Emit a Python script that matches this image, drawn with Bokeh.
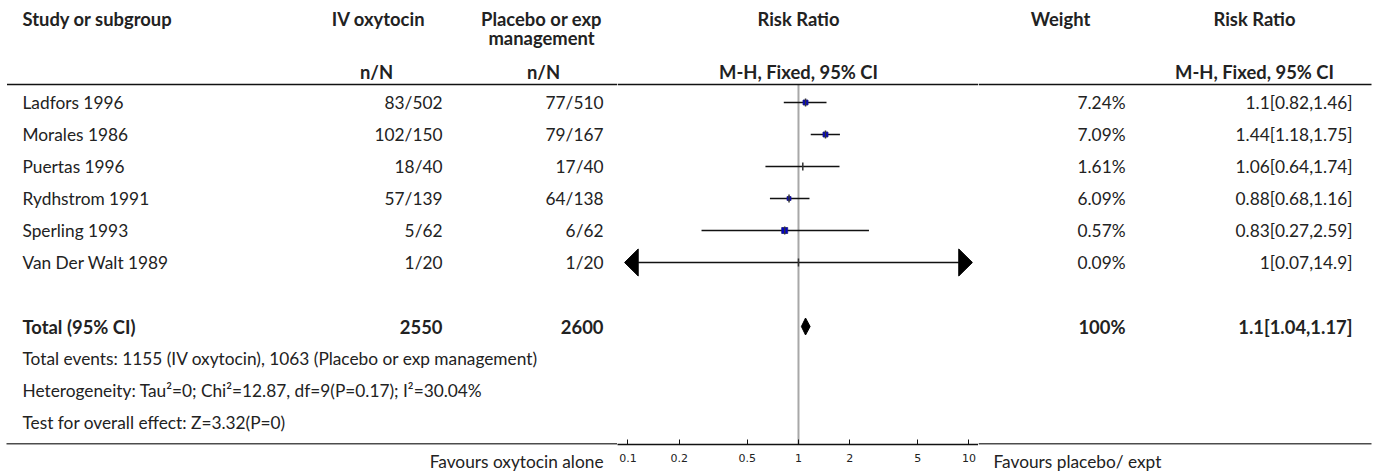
from bokeh.plotting import figure
from bokeh.layouts import row
from bokeh.models import Range1d, ColumnDataSource, FixedTicker, CustomJSTickFormatter, Span, Title
from bokeh.core.properties import value
from bokeh.embed import file_html
from bokeh.resources import INLINE

# ---------------- data ----------------
studies = ["Ladfors 1996", "Morales 1986", "Puertas 1996", "Rydhstrom 1991",
           "Sperling 1993", "Van Der Walt 1989"]
iv_events = [83, 102, 18, 57, 5, 1]
iv_total = [502, 150, 40, 139, 62, 20]
pl_events = [77, 79, 17, 64, 6, 1]
pl_total = [510, 167, 40, 138, 62, 20]
weights = [7.24, 7.09, 1.61, 6.09, 0.57, 0.09]
rr = [1.1, 1.44, 1.06, 0.88, 0.83, 1]
rr_lo = [0.82, 1.18, 0.64, 0.68, 0.27, 0.07]
rr_hi = [1.46, 1.75, 1.74, 1.16, 2.59, 14.9]

total_iv = 2550
total_pl = 2600
total_weight = 100
total_rr = 1.1
total_lo = 1.04
total_hi = 1.17
events_iv = 1155
events_pl = 1063
tau2 = 0
chi2 = 12.87
df = 9
p_het = 0.17
i2 = 30.04
z_val = 3.32
p_val = 0

axis_ticks = [0.1, 0.2, 0.5, 1, 2, 5, 10]

# ---------------- style ----------------
H = 475
LEFT_W, MID_W, RIGHT_W = 617, 361, 395
FONT = "Lato"
FS = "17.3px"
FSB = "18.4px"
TXT = "#222222"
LINE = "#111111"
box_px = [5, 5, 0, 4, 6, 0]          # marker sizes as drawn in the reference

ROW0, STEP = 102, 32
row_y = [ROW0 + STEP * i for i in range(len(studies))]
total_y = ROW0 + STEP * 7
info_y = [ROW0 + STEP * 8, ROW0 + STEP * 9, ROW0 + STEP * 10]
HEAD1, HEAD2, HEADN = 18, 37, 71
RULE_Y = 84
AXIS_Y = 444


def make_fig(width, xr, **kw):
    p = figure(width=width, height=H, x_range=xr, y_range=Range1d(AXIS_Y, 0),
               output_backend="svg", toolbar_location=None,
               min_border_left=0, min_border_right=0,
               min_border_top=0, min_border_bottom=H - AXIS_Y, **kw)
    p.grid.visible = False
    p.outline_line_color = None
    p.background_fill_color = "white"
    p.border_fill_color = "white"
    return p


def txt(p, xs, ys, texts, align="left", bold=False):
    src = ColumnDataSource(dict(x=xs, y=ys, t=texts))
    p.text(x="x", y="y", text="t", source=src, text_align=align,
           text_baseline="middle", text_font=value(FONT),
           text_font_size=FSB if bold else FS,
           text_font_style="bold" if bold else "normal", text_color=TXT)


def favours(p, text, align, offset):
    # a tiny blank title first reserves a few pixels under the frame,
    # so that the caption that follows sits lower in the bottom panel
    p.axis.visible = False
    p.add_layout(Title(text=" ", standoff=0, text_font_size="3px"), "below")
    p.add_layout(Title(text=text, align=align, offset=offset, standoff=0,
                       vertical_align="middle", text_font=FONT, text_font_size=FS,
                       text_font_style="normal", text_color=TXT), "below")


def fmt(v):
    return f"{v:g}"


# ---------------- left table ----------------
left = make_fig(LEFT_W, Range1d(0, LEFT_W))
n = len(studies)
txt(left, [22], [HEAD1], ["Study or subgroup"], bold=True)
txt(left, [378], [HEAD1], ["IV oxytocin"], align="center", bold=True)
txt(left, [541, 541], [HEAD1, HEAD2], ["Placebo or exp", "management"], align="center", bold=True)
txt(left, [376, 543], [HEADN, HEADN], ["n/N", "n/N"], align="center", bold=True)
txt(left, [22] * n, row_y, studies)
txt(left, [442] * n, row_y, [f"{a}/{b}" for a, b in zip(iv_events, iv_total)], align="right")
txt(left, [603] * n, row_y, [f"{a}/{b}" for a, b in zip(pl_events, pl_total)], align="right")
txt(left, [22], [total_y], ["Total (95% CI)"], bold=True)
txt(left, [442, 603], [total_y, total_y], [str(total_iv), str(total_pl)], align="right", bold=True)
info = [
    f"Total events: {events_iv} (IV oxytocin), {events_pl} (Placebo or exp management)",
    f"Heterogeneity: Tau\u00b2={fmt(tau2)}; Chi\u00b2={fmt(chi2)}, df={df}(P={fmt(p_het)}); I\u00b2={fmt(i2)}%",
    f"Test for overall effect: Z={fmt(z_val)}(P={fmt(p_val)})",
]
txt(left, [22] * 3, info_y, info)
favours(left, "Favours oxytocin alone", "right", 14)
left.segment(x0=[6.5, 6], y0=[RULE_Y, AXIS_Y - 0.5], x1=[LEFT_W, LEFT_W], y1=[RULE_Y, AXIS_Y - 0.5],
             line_color=LINE, line_width=1.5)

# ---------------- forest plot ----------------
mid = make_fig(MID_W, Range1d(0.0868, 11.37), x_axis_type="log")
mid.yaxis.visible = False
ax = mid.xaxis[0]
ax.ticker = FixedTicker(ticks=axis_ticks)
ax.formatter = CustomJSTickFormatter(code="return tick.toString();")
ax.axis_line_color = LINE
ax.axis_line_width = 1.5
ax.major_tick_in = 5
ax.major_tick_out = 0
ax.major_tick_line_color = LINE
ax.minor_tick_line_color = None
ax.major_label_text_font = "DejaVu Sans"
ax.major_label_text_font_size = "11px"
ax.major_label_text_color = TXT
ax.major_label_standoff = 9

mid.add_layout(Span(location=RULE_Y, dimension="width", line_color=LINE, line_width=1.5))
txt(mid, [1], [HEAD1], ["Risk Ratio"], align="center", bold=True)
txt(mid, [1], [HEADN], ["M-H, Fixed, 95% CI"], align="center", bold=True)

# reference line at RR = 1
mid.segment(x0=[1], y0=[RULE_Y], x1=[1], y1=[AXIS_Y], line_color="#a8a8a8", line_width=2)

tip_lo, base_lo = 10 ** -1.02, 10 ** -0.94
tip_hi, base_hi = 10 ** 1.02, 10 ** 0.94
ARROW_HALF = 13.5

x0s, x1s, ys = [], [], []
ax_xs, ax_ys = [], []
for est, lo, hi, y in zip(rr, rr_lo, rr_hi, row_y):
    a, b = lo, hi
    if lo < tip_lo:
        a = base_lo
        ax_xs.append([tip_lo, base_lo, base_lo])
        ax_ys.append([y, y - ARROW_HALF, y + ARROW_HALF])
    if hi > tip_hi:
        b = base_hi
        ax_xs.append([tip_hi, base_hi, base_hi])
        ax_ys.append([y, y - ARROW_HALF, y + ARROW_HALF])
    x0s.append(a); x1s.append(b); ys.append(y)

mid.segment(x0=x0s, y0=ys, x1=x1s, y1=ys, line_color=LINE, line_width=1.5)
if ax_xs:
    mid.patches(xs=ax_xs, ys=ax_ys, fill_color="black", line_color="black")

sq = [(e, y, s) for e, y, s in zip(rr, row_y, box_px) if s > 0]
mid.scatter(x=[q[0] for q in sq], y=[q[1] for q in sq], size=[q[2] for q in sq],
            marker="square", fill_color="#0000cc", line_color="#1a1a80", line_width=0.8)
mid.segment(x0=rr, y0=[y - 4 for y in row_y], x1=rr, y1=[y + 4 for y in row_y],
            line_color="#333333", line_width=1.5)

mid.patch(x=[total_lo, total_rr, total_hi, total_rr],
          y=[total_y, total_y - 8.5, total_y, total_y + 8.5],
          fill_color="black", line_color="black")

# ---------------- right table ----------------
x_start = LEFT_W + MID_W
right = make_fig(RIGHT_W, Range1d(x_start, x_start + RIGHT_W))
txt(right, [1060], [HEAD1], ["Weight"], align="center", bold=True)
txt(right, [1254], [HEAD1], ["Risk Ratio"], align="center", bold=True)
txt(right, [1254], [HEADN], ["M-H, Fixed, 95% CI"], align="center", bold=True)
txt(right, [1125] * n, row_y, [f"{w:.2f}%" for w in weights], align="right")
txt(right, [1352] * n, row_y,
    [f"{fmt(e)}[{fmt(l)},{fmt(h)}]" for e, l, h in zip(rr, rr_lo, rr_hi)], align="right")
txt(right, [1125], [total_y], [f"{fmt(total_weight)}%"], align="right", bold=True)
txt(right, [1352], [total_y], [f"{fmt(total_rr)}[{fmt(total_lo)},{fmt(total_hi)}]"], align="right", bold=True)
favours(right, "Favours placebo/ expt", "left", 15)
right.segment(x0=[x_start, x_start], y0=[RULE_Y, AXIS_Y - 0.5], x1=[1371, 1371], y1=[RULE_Y, AXIS_Y - 0.5],
              line_color=LINE, line_width=1.5)

layout = row(left, mid, right, spacing=0)
open("out.html", "w").write(file_html(layout, INLINE))
